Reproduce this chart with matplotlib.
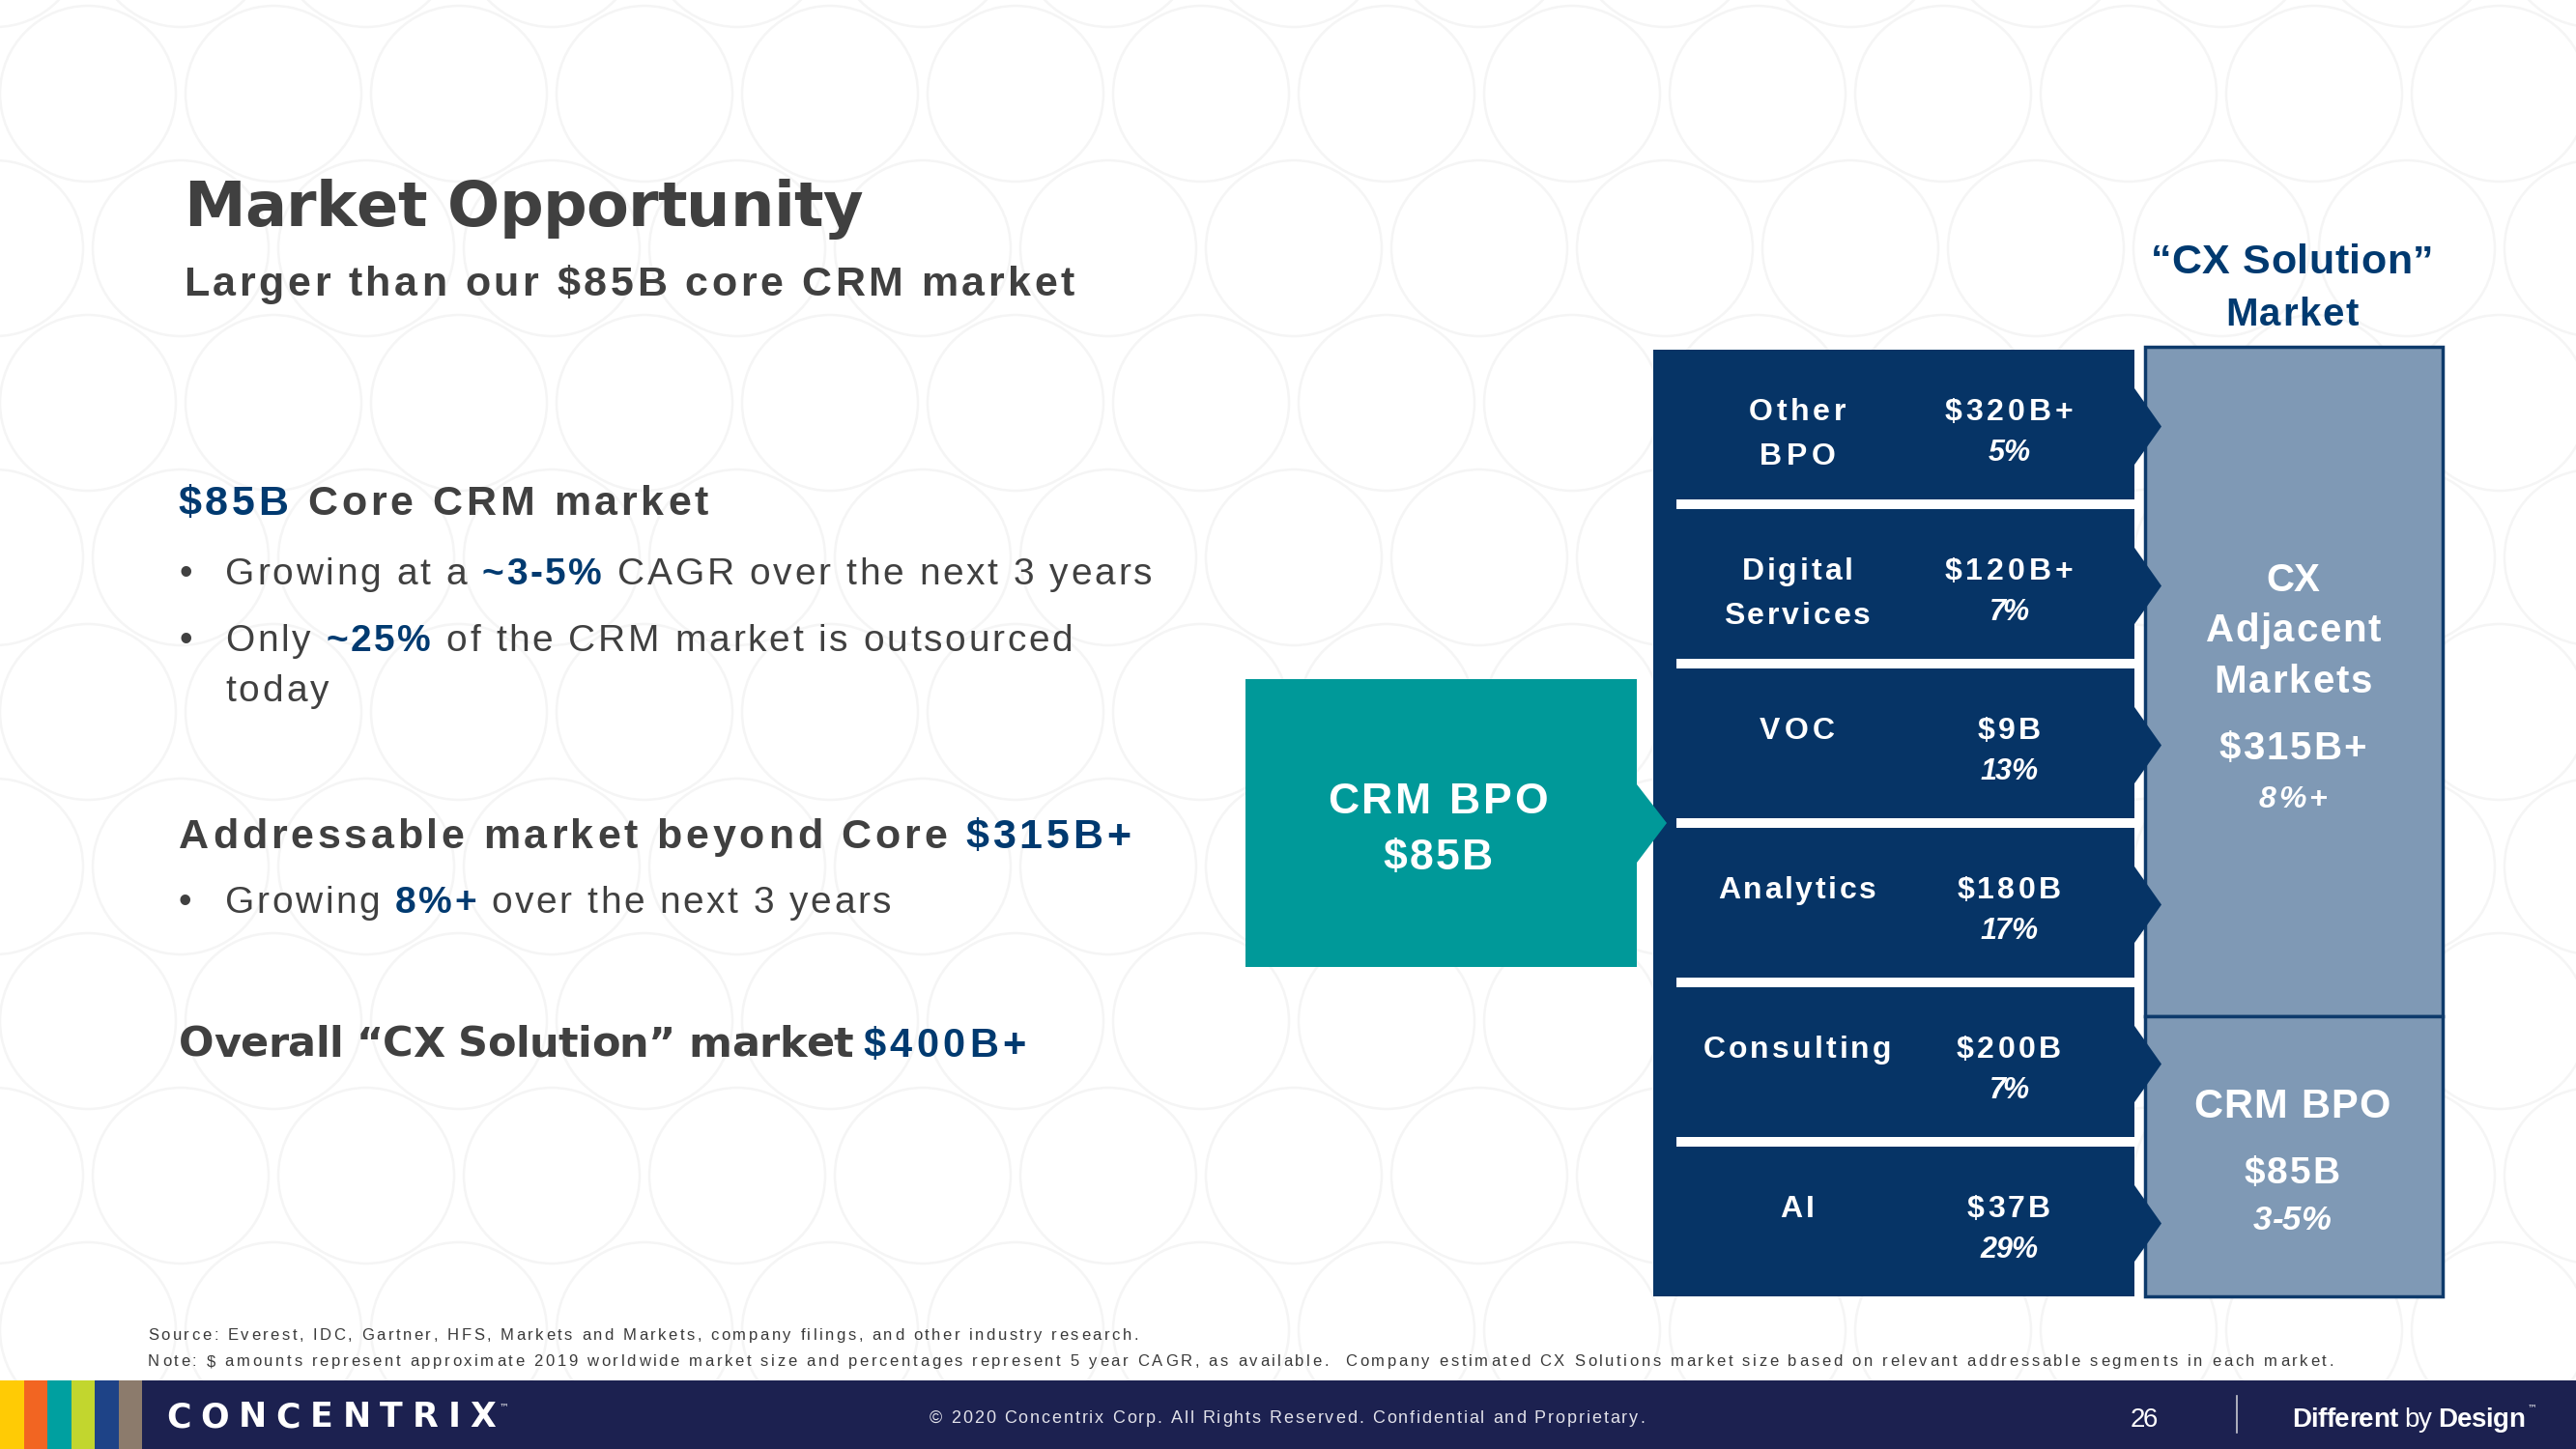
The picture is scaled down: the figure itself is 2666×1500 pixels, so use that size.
import matplotlib
matplotlib.use("Agg")
import matplotlib.pyplot as plt
from matplotlib.patches import Rectangle, Polygon, Circle
from matplotlib.font_manager import FontProperties, findfont, get_font, fontManager

try:
    from matplotlib.ft2font import LoadFlags
    NOH = LoadFlags.NO_HINTING
except ImportError:  # older matplotlib
    from matplotlib.ft2font import LOAD_NO_HINTING as NOH

# ------------------------------------------------------------------ data
segments = ["Other\nBPO", "Digital\nServices", "VOC", "Analytics", "Consulting", "AI"]
segment_size = ["$320B+", "$120B+", "$9B", "$180B", "$200B", "$37B"]
segment_cagr = ["5%", "7%", "13%", "17%", "7%", "29%"]

core_label = "CRM BPO"
core_size = "$85B"
core_cagr = "3-5%"
adjacent_label = ["CX", "Adjacent", "Markets"]
adjacent_size = "$315B+"
adjacent_cagr = "8%+"
total_size = "$400B+"
outsourced_share = "~25%"

title = "Market Opportunity"
subtitle = "Larger than our $85B core CRM market"
note1 = "Source: Everest, IDC, Gartner, HFS, Markets and Markets, company filings, and other industry research."
note2 = ("Note: $ amounts represent approximate 2019 worldwide market size and percentages represent 5 year CAGR, "
         "as available.  Company estimated CX Solutions market size based on relevant addressable segments in each market.")
copyright_txt = "\u00a9 2020 Concentrix Corp. All Rights Reserved. Confidential and Proprietary."
page_no = "26"

# ------------------------------------------------------------------ style
W, H, DPI = 2666, 1500, 100
names = {f.name for f in fontManager.ttflist}
NARROW = "Liberation Sans Narrow" if "Liberation Sans Narrow" in names else "Liberation Sans"
WIDE = "Liberation Sans"
HEAVY = "DejaVu Sans"

GRAY = "#404040"
ACCENT = "#003A70"
BOXNAVY = "#063466"
TEAL = "#009999"
STEEL = "#7F99B5"
BORDER = "#0D3A6B"
BAND = "#1C2150"
WHITE = "#FFFFFF"

fig = plt.figure(figsize=(W / DPI, H / DPI), dpi=DPI)
fig.patch.set_facecolor("white")
ax = fig.add_axes([0, 0, 1, 1])
ax.set_xlim(0, W)
ax.set_ylim(H, 0)
ax.axis("off")


def fprop(st, size):
    return FontProperties(family=st.get("family", NARROW), weight=st.get("weight", "normal"),
                          style=st.get("style", "normal"), size=size)


def advances(text, fp):
    font = get_font(findfont(fp), hinting_factor=1)
    font.set_size(fp.get_size_in_points(), DPI)
    return [font.load_char(ord(c), flags=NOH).linearHoriAdvance / 65536.0 for c in text]


def tline(x, y, runs, size, ha="left", width=None, track=0.0):
    chars = []
    for text, st in runs:
        fp = fprop(st, size)
        for c, a in zip(text, advances(text, fp)):
            chars.append((c, fp, st.get("color", GRAY), a))
    nat = sum(c[3] for c in chars)
    n = len(chars)
    if width is not None and n > 1:
        track = (width - nat) / (n - 1)
    total = nat + track * (n - 1)
    x0 = x - total / 2 if ha == "center" else (x - total if ha == "right" else x)
    cx = x0
    for c, fp, col, a in chars:
        if c != " ":
            ax.text(cx, y, c, fontproperties=fp, color=col, ha="left", va="baseline",
                    zorder=6, parse_math=False)
        cx += a + track


gray_b = dict(family=NARROW, weight="bold", color=GRAY)
gray_r = dict(family=NARROW, weight="normal", color=GRAY)
acc_b = dict(family=NARROW, weight="bold", color=ACCENT)
heavy_b = dict(family=HEAVY, weight="bold", color=GRAY)
white_b = dict(family=NARROW, weight="bold", color=WHITE)
white_bi = dict(family=NARROW, weight="bold", style="italic", color=WHITE)
white_r = dict(family=NARROW, weight="normal", color=WHITE)

# ------------------------------------------------------------------ background circles
for j in range(-1, 11):
    cy = 97 + 160 * j
    off = 0 if j % 2 == 0 else 96
    for k in range(-1, 15):
        ax.add_patch(Circle((91 + 192 * k + off, cy), 91, fill=False, ec="#F5F5F5", lw=1.8, zorder=0))

# ------------------------------------------------------------------ left text
tline(190, 234, [(title, heavy_b)], 46, width=703)
tline(190, 306, [(subtitle, gray_b)], 31, width=922)
tline(184, 533, [(core_size, acc_b), (" Core CRM market", gray_b)], 31, width=549)
ax.text(192, 605, "\u2022", fontproperties=fprop(gray_r, 28), color=GRAY, ha="center", va="baseline", zorder=6)
tline(233, 605, [("Growing at a ", gray_r), ("~" + core_cagr, acc_b), (" CAGR over the next 3 years", gray_r)], 28, width=959)
ax.text(192, 674, "\u2022", fontproperties=fprop(gray_r, 28), color=GRAY, ha="center", va="baseline", zorder=6)
tline(233, 674, [("Only ", gray_r), (outsourced_share, acc_b), (" of the CRM market is outsourced", gray_r)], 28, width=877)
tline(233, 726, [("today", gray_r)], 28, width=107)
tline(185, 878, [("Addressable market beyond Core ", gray_b), (adjacent_size, acc_b)], 31, width=985)
ax.text(191, 945, "\u2022", fontproperties=fprop(gray_r, 28), color=GRAY, ha="center", va="baseline", zorder=6)
tline(233, 945, [("Growing ", gray_r), (adjacent_cagr, acc_b), (" over the next 3 years", gray_r)], 28, width=689)
tline(185, 1094, [("Overall \u201cCX Solution\u201d market", heavy_b)], 31, width=698)
tline(893, 1094, [(total_size, acc_b)], 30, width=169)

# ------------------------------------------------------------------ right heading
tline(2372, 283, [("\u201cCX Solution\u201d", dict(family=WIDE, weight="bold", color=ACCENT))], 31, ha="center", width=293)
tline(2372, 337, [("Market", acc_b)], 29, ha="center", width=138)

# ------------------------------------------------------------------ light boxes
ax.add_patch(Rectangle((2220, 359), 308, 693, fc=STEEL, ec=BORDER, lw=2.5, zorder=1))
ax.add_patch(Rectangle((2220, 1052), 308, 290, fc=STEEL, ec=BORDER, lw=2.5, zorder=1))

# ------------------------------------------------------------------ navy segment block
NX0, NX1, TOP, BOT = 1711, 2209, 362, 1342
ROWH, GAP = 155, 10
ax.add_patch(Rectangle((NX0, TOP), NX1 - NX0, BOT - TOP, fc=BOXNAVY, ec="none", zorder=2))
label_w = {"Other": 100, "BPO": 79, "Digital": 115, "Services": 152, "VOC": 78,
           "Analytics": 164, "Consulting": 195, "AI": 36}
size_w = {"$320B+": 133, "$120B+": 133, "$9B": 65, "$180B": 107, "$200B": 108, "$37B": 86}
cagr_w = {"5%": 43, "7%": 41, "13%": 60, "17%": 60, "29%": 60}
for i, (seg, sz, cg) in enumerate(zip(segments, segment_size, segment_cagr)):
    top = TOP + i * (ROWH + GAP)
    if i > 0:
        ax.add_patch(Rectangle((1735, top - GAP), NX1 - 1735 + 1, GAP, fc="white", ec="none", zorder=3))
    c = top + ROWH / 2 + 2
    ax.add_patch(Polygon([(NX1 - 1, c - 41), (2237, c), (NX1 - 1, c + 41)], closed=True,
                         fc=BOXNAVY, ec="none", zorder=3))
    for li, line in enumerate(seg.split("\n")):
        tline(1860, top + 73 + 46 * li, [(line, white_b)], 23, ha="center", width=label_w.get(line))
    tline(2079, top + 73, [(sz, white_b)], 23, ha="center", width=size_w.get(sz))
    tline(2079, top + 115, [(cg, white_bi)], 22, ha="center", width=cagr_w.get(cg))

# ------------------------------------------------------------------ teal core box
ax.add_patch(Polygon([(1289, 703), (1694, 703), (1694, 812), (1725, 852), (1694, 893),
                      (1694, 1001), (1289, 1001)], closed=True, fc=TEAL, ec="none", zorder=4))
tline(1488, 842, [(core_label, white_b)], 32, ha="center", width=227)
tline(1488, 900, [(core_size, white_b)], 32, ha="center", width=113)

# ------------------------------------------------------------------ light box text
for li, (line, w) in enumerate(zip(adjacent_label, [55, 181, 164])):
    tline(2373, 612 + 52.5 * li, [(line, white_b)], 29, ha="center", width=w)
tline(2373, 786, [(adjacent_size, white_b)], 29, ha="center", width=152)
tline(2373, 836, [(adjacent_cagr, white_bi)], 23, ha="center", width=70)
tline(2372, 1157, [(core_label, white_b)], 30, ha="center", width=203)
tline(2372, 1225, [(core_size, white_b)], 28, ha="center", width=99)
tline(2372, 1273, [(core_cagr, white_bi)], 25, ha="center", width=81)

# ------------------------------------------------------------------ notes
tline(153, 1387, [(note1, dict(family=NARROW, color="#3A3A3A"))], 12, width=1025)
tline(153, 1414, [(note2, dict(family=NARROW, color="#3A3A3A"))], 12, width=2262)

# ------------------------------------------------------------------ footer
ax.add_patch(Rectangle((0, 1429), W, H - 1429, fc=BAND, ec="none", zorder=2))
for s, col in enumerate(["#FFCB05", "#F26522", "#00A0A0", "#C2D62E", "#1E4387", "#8C7B6C"]):
    ax.add_patch(Rectangle((s * 24.5, 1429), 24.8, H - 1429, fc=col, ec="none", zorder=3))
tline(172, 1477, [("CONCENTRIX", dict(family=HEAVY, weight="bold", color=WHITE))], 25, width=341)
ax.text(517, 1451, "\u2122", fontsize=7, color=WHITE, ha="left", va="top", zorder=6)
tline(962, 1473, [(copyright_txt, dict(family=NARROW, color="#E2E2EA"))], 13, width=740)
tline(2219, 1477, [(page_no, white_r)], 20, ha="center", width=28)
ax.plot([2315, 2315], [1445, 1483], color="#C8C8D0", lw=1.2, zorder=6)
tline(2372, 1477, [("Different", white_b), (" by ", white_r), ("Design", white_b)], 20, width=241)
ax.text(2616, 1452, "\u2122", fontsize=7, color=WHITE, ha="left", va="top", zorder=6)

fig.savefig("out.png", dpi=DPI, facecolor="white")
